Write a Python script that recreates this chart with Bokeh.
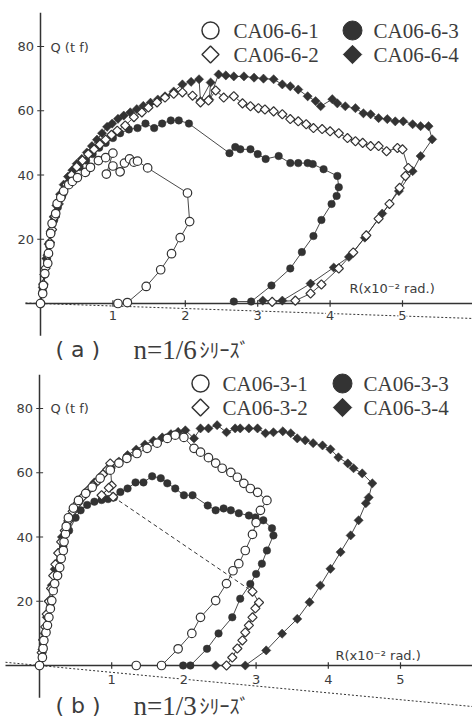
import math
from bokeh.plotting import figure
from bokeh.models import Range1d
from bokeh.embed import file_html
from bokeh.resources import INLINE
from bokeh.core.properties import value

# ---------------- data: (R [x10^-2 rad], Q [tf]) ----------------
# Panel (a) n=1/6 series
A1 = [(0.00,0.0),(0.03,3.1),(0.04,5.6),(0.06,9.3),(0.10,12.5),(0.11,15.6),(0.13,18.4),(0.14,21.8),
      (0.16,24.9),(0.21,28.0),(0.23,31.1),(0.28,33.0),(0.32,35.0),(0.39,37.0),(0.44,38.0),(0.51,39.2),
      (0.62,40.8),(0.69,42.4),(0.80,44.5),(0.90,45.4),(1.00,46.8),(0.91,40.3),(1.00,42.8),(1.10,41.0),
      (1.16,43.7),(1.23,45.0),(1.29,44.0),(1.34,44.3),(1.48,42.2),(2.03,34.4),(2.06,25.5),(1.93,20.5),
      (1.81,15.5),(1.66,10.5),(1.46,5.3),(1.20,0.3),(1.07,0.0)]
A2 = [(0.00,0.0),(0.04,6.0),(0.07,11.0),(0.10,15.0),(0.13,19.0),(0.16,23.0),(0.20,27.0),(0.25,31.0),
      (0.30,34.0),(0.36,37.0),(0.43,40.0),(0.50,42.5),(0.58,44.5),(0.66,46.5),(0.74,48.0),(0.82,49.5),
      (0.90,51.0),(0.98,52.5),(1.06,53.8),(1.17,55.4),(1.29,58.0),(1.40,59.5),(1.49,61.0),(1.61,62.6),
      (1.72,64.1),(1.84,65.3),(1.96,65.7),(2.10,64.7),(2.21,62.6),(2.32,63.2),(2.42,66.3),(2.53,64.1),
      (2.67,64.5),(2.79,62.3),(2.90,61.4),(3.01,60.8),(3.10,60.4),(3.22,59.8),(3.34,58.9),(3.45,57.4),
      (3.56,56.7),(3.67,55.8),(3.77,54.6),(3.89,54.3),(4.00,53.6),(4.12,53.0),(4.24,51.5),(4.35,50.5),
      (4.45,50.0),(4.56,49.0),(4.67,49.0),(4.78,47.4),(4.93,48.4),(5.00,48.0),(5.08,42.2),(5.04,39.7),
      (4.96,36.0),(4.82,31.0),(4.67,26.4),(4.50,21.2),(4.32,15.9),(4.12,10.9),(3.88,5.9),(3.73,3.1),
      (3.52,0.9),(3.20,0.5)]
A3 = [(0.00,0.0),(0.03,4.0),(0.06,9.0),(0.09,13.5),(0.12,18.0),(0.15,22.0),(0.19,26.0),(0.24,30.0),
      (0.30,33.5),(0.37,37.0),(0.45,40.0),(0.54,42.5),(0.63,44.5),(0.72,46.5),(0.81,48.5),(0.90,50.0),
      (1.00,51.5),(1.10,53.0),(1.22,54.2),(1.34,54.6),(1.45,56.0),(1.57,54.6),(1.68,56.0),(1.80,57.0),
      (1.91,57.0),(2.05,56.0),(2.61,46.8),(2.69,48.7),(2.76,48.0),(2.90,48.0),(3.00,46.5),(3.11,45.0),
      (3.29,45.9),(3.45,43.7),(3.56,43.7),(3.69,43.7),(3.76,43.4),(3.91,41.8),(4.10,39.7),(4.12,36.2),
      (4.09,33.5),(4.02,31.0),(3.88,26.0),(3.77,21.0),(3.61,16.0),(3.45,10.9),(3.19,5.6),(2.91,0.6),
      (2.67,0.6)]
A4 = [(0.00,0.0),(0.03,5.0),(0.05,9.0),(0.08,14.0),(0.11,18.5),(0.14,22.5),(0.18,27.0),(0.22,30.5),
      (0.27,34.0),(0.32,37.0),(0.38,39.5),(0.44,41.5),(0.50,43.5),(0.57,45.0),(0.64,47.0),(0.71,49.0),
      (0.78,51.0),(0.85,53.0),(0.92,55.0),(0.99,56.0),(1.07,57.5),(1.15,58.5),(1.24,59.5),(1.33,60.5),
      (1.42,61.5),(1.52,62.5),(1.62,63.5),(1.72,64.5),(1.84,66.0),(1.96,68.2),(2.08,69.0),(2.19,69.8),
      (2.21,63.0),(2.35,68.8),(2.33,63.5),(2.46,71.3),(2.56,71.0),(2.67,70.7),(2.81,70.7),(2.95,70.3),
      (3.08,70.0),(3.22,69.8),(3.34,68.2),(3.45,67.6),(3.56,66.6),(3.69,64.5),(3.80,63.0),(3.87,61.4),
      (4.03,63.6),(4.10,62.3),(4.21,61.4),(4.35,60.8),(4.46,59.2),(4.56,58.9),(4.67,57.7),(4.79,57.4),
      (4.90,56.7),(5.01,56.7),(5.14,55.8),(5.25,55.2),(5.36,55.2),(5.41,51.1),(5.25,45.9),(5.14,41.2),
      (4.95,35.0),(4.72,28.0),(4.48,20.5),(4.26,14.5),(4.05,11.2),(3.73,6.2),(3.34,0.9),(3.07,0.9)]

# Panel (b) n=1/3 series
B1 = [(0.00,0.0),(0.04,2.5),(0.05,5.3),(0.06,7.8),(0.09,10.3),(0.11,12.5),(0.13,15.0),(0.15,17.7),
      (0.17,20.2),(0.19,23.3),(0.21,25.5),(0.25,28.0),(0.28,30.5),(0.30,33.3),(0.33,35.8),(0.34,38.5),
      (0.36,41.0),(0.37,43.3),(0.40,46.0),(0.47,49.0),(0.54,51.4),(0.64,53.6),(0.73,55.5),(0.84,58.3),
      (0.98,60.8),(1.10,63.0),(1.21,64.5),(1.35,66.0),(1.49,67.6),(1.63,69.2),(1.77,70.7),(1.88,71.7),
      (2.00,71.0),(2.14,67.6),(2.23,66.4),(2.34,64.7),(2.44,63.0),(2.53,61.4),(2.65,60.1),(2.74,58.6),
      (2.83,56.7),(2.92,55.1),(3.02,53.9),(3.15,51.4),(3.06,48.3),(3.00,44.5),(2.95,40.8),(2.85,35.8),
      (2.76,31.7),(2.68,29.5),(2.59,25.5),(2.44,20.2),(2.23,15.0),(2.11,10.0),(1.92,5.2),(1.69,0.0),
      (1.34,0.0)]
B2_load = [(0.00,0.0),(0.03,4.0),(0.05,8.0),(0.08,12.0),(0.10,16.0),(0.13,20.0),(0.16,24.0),(0.19,28.0),
           (0.22,31.5),(0.26,35.0),(0.30,38.5),(0.35,42.0),(0.40,45.0),(0.46,48.0),(0.53,50.5),(0.60,52.5),
           (0.67,54.5),(0.74,56.0),(0.81,57.5),(0.88,59.5),(0.94,61.0),(0.98,62.9),(1.00,56.0),(0.86,53.0),
           (0.96,55.3),(1.02,52.5)]
B2_unload = [(2.95,23.0),(3.04,19.6),(2.99,17.8),(2.95,15.0),(2.90,12.5),(2.85,10.3),(2.81,7.8),
             (2.74,5.3),(2.67,2.5),(2.59,0.0)]
B3 = [(0.00,0.0),(0.05,6.0),(0.10,12.0),(0.15,19.0),(0.20,25.0),(0.26,31.0),(0.33,37.0),(0.41,42.0),
      (0.50,46.0),(0.57,48.3),(0.66,50.0),(0.76,51.0),(0.86,51.5),(0.95,51.8),(1.03,52.3),(1.12,54.0),
      (1.22,55.1),(1.33,57.0),(1.44,57.0),(1.56,58.9),(1.68,58.3),(1.77,56.7),(1.88,55.1),(2.00,53.0),
      (2.12,53.0),(2.33,49.8),(2.44,48.3),(2.55,48.9),(2.65,48.3),(2.76,47.4),(2.90,46.7),(2.99,46.1),
      (3.10,45.2),(3.22,42.7),(3.24,40.5),(3.15,35.8),(3.08,31.7),(3.00,28.5),(2.92,25.4),(2.78,20.8),
      (2.67,15.0),(2.48,10.0),(2.32,5.2),(2.09,0.0),(1.99,0.0)]
B4 = [(0.00,0.0),(0.04,5.0),(0.07,10.0),(0.10,15.0),(0.13,20.0),(0.17,25.0),(0.21,30.0),(0.26,35.0),
      (0.31,40.0),(0.38,44.0),(0.46,48.0),(0.55,51.0),(0.65,54.0),(0.76,57.0),(0.88,59.5),(0.99,61.5),
      (1.10,63.5),(1.22,65.5),(1.34,67.2),(1.46,68.8),(1.58,70.0),(1.70,71.0),(1.82,72.0),(1.92,72.7),
      (2.02,73.2),(2.14,70.7),(2.23,73.8),(2.34,73.8),(2.46,74.8),(2.59,72.6),(2.71,73.8),(2.78,73.8),
      (2.90,73.8),(3.02,73.8),(3.13,72.3),(3.24,72.6),(3.37,72.9),(3.48,72.3),(3.57,70.7),(3.68,70.1),
      (3.79,69.2),(3.92,68.5),(4.03,67.3),(4.14,64.8),(4.27,62.9),(4.35,61.4),(4.47,59.8),(4.61,56.7),
      (4.56,52.3),(4.52,50.5),(4.42,45.2),(4.31,40.5),(4.17,35.3),(4.03,30.1),(3.89,24.9),(3.74,19.7),
      (3.57,14.5),(3.36,9.9),(3.14,4.7),(2.85,0.0),(2.44,0.0)]

labels_a = ["CA06-6-1", "CA06-6-2", "CA06-6-3", "CA06-6-4"]
labels_b = ["CA06-3-1", "CA06-3-2", "CA06-3-3", "CA06-3-4"]
x_ticks = [1, 2, 3, 4, 5]
y_ticks = [20, 40, 60, 80]
pdelta_slope_a = -0.78   # Q per R unit, dotted reference line (a)
pdelta_slope_b = -2.13   # dotted reference line (b)

# ---------------- figure ----------------
W, H = 472, 721
INK = "#333333"
TXT = "#3c3c3c"

# page pixel -> data helpers (layout only)
def ax(px): return (px - 40) / 72.4
def ay(py): return (303 - py) / 3.2125
def bx(px): return (px - 39) / 72.2
def by(py): return (665 - py) / 3.2125

p = figure(width=W, height=H, x_range=Range1d(ax(0), ax(W)), y_range=Range1d(ay(H), ay(0)),
           output_backend="svg", toolbar_location=None, min_border=0,
           x_axis_location=None, y_axis_location=None)
p.extra_x_ranges = {"xb": Range1d(bx(0), bx(W))}
p.extra_y_ranges = {"yb": Range1d(by(H), by(0))}
p.grid.visible = False
p.outline_line_color = None
p.background_fill_color = "white"
p.border_fill_color = "white"

def xs(d): return [r for r, q in d]
def ys(d): return [q for r, q in d]

def draw_axes(kw, fx, fy, xl, slope, ylab_px, rlab_px, xlab_py):
    x0, x1 = fx(xl), fx(480)
    p.line([x0, x1], [0, 0], line_color=INK, line_width=1.3, **kw)
    p.line([0, 0], [-10, 90.5], line_color=INK, line_width=1.5, **kw)
    p.segment(x0=x_ticks, y0=[-1.0]*5, x1=x_ticks, y1=[1.0]*5, line_color=INK, line_width=1.2, **kw)
    p.segment(x0=[-0.045]*4, y0=y_ticks, x1=[0.05]*4, y1=y_ticks, line_color=INK, line_width=1.2, **kw)
    p.line([x0, x1], [slope * x0, slope * x1], line_color=INK, line_width=1.0, line_dash="2 2", **kw)
    p.text(x=[-0.09]*4, y=y_ticks, text=[str(v) for v in y_ticks], text_align="right",
           text_baseline="middle", text_font_size="13px", text_font=value("DejaVu Sans"),
           text_color=TXT, **kw)
    p.text(x=x_ticks, y=[fy(xlab_py)]*5, text=[str(v) for v in x_ticks], text_align="center",
           text_baseline="middle", text_font_size="13px", text_font=value("DejaVu Sans"),
           text_color=TXT, background_fill_color="white", **kw)
    p.text(x=[fx(ylab_px[0])], y=[fy(ylab_px[1])], text=["Q (t f)"], text_align="left",
           text_baseline="middle", text_font_size="13px", text_font=value("DejaVu Sans"),
           text_color=TXT, **kw)
    p.text(x=[fx(rlab_px[0])], y=[fy(rlab_px[1])], text=["R(x10\u207b\u00b2 rad.)"], text_align="left",
           text_baseline="middle", text_font_size="13px", text_font=value("DejaVu Sans"),
           text_color=TXT, **kw)

def draw_series(kw, s1, s2_parts, s3, s4, dashed=None):
    for d in [s1, s3, s4] + s2_parts:
        p.line(xs(d), ys(d), line_color=INK, line_width=0.9, **kw)
    if dashed is not None:
        p.line(xs(dashed), ys(dashed), line_color=INK, line_width=1.0, line_dash="4 3", **kw)
    p.scatter(xs(s4), ys(s4), marker="square", angle=math.pi/4, size=6.5, fill_color=INK,
              line_color=INK, line_width=0.5, **kw)
    p.scatter(xs(s3), ys(s3), marker="circle", size=7.5, fill_color=INK, line_color=INK,
              line_width=0.5, **kw)
    for d in s2_parts:
        p.scatter(xs(d), ys(d), marker="square", angle=math.pi/4, size=6.5, fill_color="white",
                  line_color=INK, line_width=1.2, **kw)
    p.scatter(xs(s1), ys(s1), marker="circle", size=8.5, fill_color="white", line_color=INK,
              line_width=1.2, **kw)

def draw_legend(kw, fx, fy, labels, cx1, cx2, tx1, tx2, y1, y2):
    p.scatter([fx(cx1)], [fy(y1)], marker="circle", size=17, fill_color="white", line_color=INK,
              line_width=1.5, **kw)
    p.scatter([fx(cx1)], [fy(y2)], marker="square", angle=math.pi/4, size=12, fill_color="white",
              line_color=INK, line_width=1.5, **kw)
    p.scatter([fx(cx2)], [fy(y1)], marker="circle", size=19, fill_color=INK, line_color=INK, **kw)
    p.scatter([fx(cx2)], [fy(y2)], marker="square", angle=math.pi/4, size=13, fill_color=INK,
              line_color=INK, **kw)
    p.text(x=[fx(tx1), fx(tx1), fx(tx2), fx(tx2)], y=[fy(y1), fy(y2), fy(y1), fy(y2)],
           text=[labels[0], labels[1], labels[2], labels[3]], text_align="left",
           text_baseline="middle", text_font_size="21px", text_font=value("Liberation Serif"),
           text_color=TXT, **kw)

def draw_caption(kw, fx, fy, letter, n_txt, ypx):
    p.text(x=[fx(55)], y=[fy(ypx)], text=["( %s )" % letter], text_align="left",
           text_baseline="middle", text_font_size="22px", text_font=value("DejaVu Sans"),
           text_color=TXT, **kw)
    p.text(x=[fx(133)], y=[fy(ypx)], text=[n_txt], text_align="left", text_baseline="middle",
           text_font_size="27px", text_font=value("Liberation Serif"), text_color=TXT, **kw)
    p.text(x=[fx(199)], y=[fy(ypx)], text=["\uff7c\uff98\uff70\uff7d\uff9e"], text_align="left",
           text_baseline="middle", text_font_size="20px", text_font=value("Noto Sans CJK JP"),
           text_color=TXT, **kw)

# panel (a)
ka = {}
draw_axes(ka, ax, ay, 25, pdelta_slope_a, (50, 47), (349, 288), 315)
draw_series(ka, A1, [A2], A3, A4)
draw_legend(ka, ax, ay, labels_a, 210, 352, 233, 373, 30, 54)
draw_caption(ka, ax, ay, "a", "n=1/6", 349)

# panel (b)
kb = {"x_range_name": "xb", "y_range_name": "yb"}
draw_axes(kb, bx, by, 5, pdelta_slope_b, (50, 408), (335, 655), 679)
draw_series(kb, B1, [B2_load, B2_unload], B3, B4, dashed=[B2_load[-1], B2_unload[0]])
draw_legend(kb, bx, by, labels_b, 200, 342, 222, 363, 383, 407)
draw_caption(kb, bx, by, "b", "n=1/3", 705)

open("out.html", "w").write(file_html(p, INLINE))
